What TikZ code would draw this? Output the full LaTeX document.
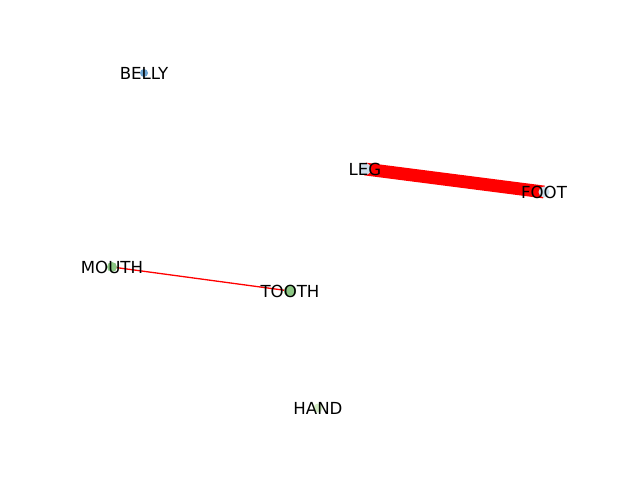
\documentclass[tikz,border=0pt]{standalone}
\usepackage{fontspec}
\setmainfont{DejaVu Sans}
\usetikzlibrary{backgrounds}

\definecolor{bellyblue}{RGB}{110,165,210}
\definecolor{palegreen}{RGB}{140,198,132}
\definecolor{handgreen}{RGB}{210,235,195}
\definecolor{paleblue}{RGB}{205,222,235}

\begin{document}
\begin{tikzpicture}[x=1pt,y=-1pt]
    \tikzstyle{vertex}=[circle,inner sep=0pt,draw=none]
    \tikzstyle{word}=[font=\fontsize{16.6}{17}\selectfont,inner sep=0pt,yshift=-0.4pt]
    \useasboundingbox (0,0) rectangle (640,480);
    \node[vertex,fill=bellyblue,minimum size=8pt] (belly) at (144,73) {};
    \node[vertex,fill=paleblue,minimum size=12pt] (leg) at (365,169) {};
    \node[vertex,fill=paleblue,minimum size=11pt] (foot) at (544,192) {};
    \node[vertex,fill=palegreen,minimum size=10pt] (mouth) at (112,267) {};
    \node[vertex,fill=palegreen,minimum size=12pt] (tooth) at (290,291) {};
    \node[vertex,fill=handgreen,minimum size=9pt] (hand) at (318,408) {};
    \begin{pgfonlayer}{background}
      \draw[red,line width=12.8pt] (leg.center) -- (foot.center);
      \draw[red,line width=1.3pt] (mouth.center) -- (tooth.center);
    \end{pgfonlayer}
    \node[word] (belly-label) at (belly) {BELLY};
    \node[word] (leg-label) at (leg) {LEG};
    \node[word] (foot-label) at (foot) {FOOT};
    \node[word] (mouth-label) at (mouth) {MOUTH};
    \node[word] (tooth-label) at (tooth) {TOOTH};
    \node[word] (hand-label) at (hand) {HAND};
\end{tikzpicture}
\end{document}
